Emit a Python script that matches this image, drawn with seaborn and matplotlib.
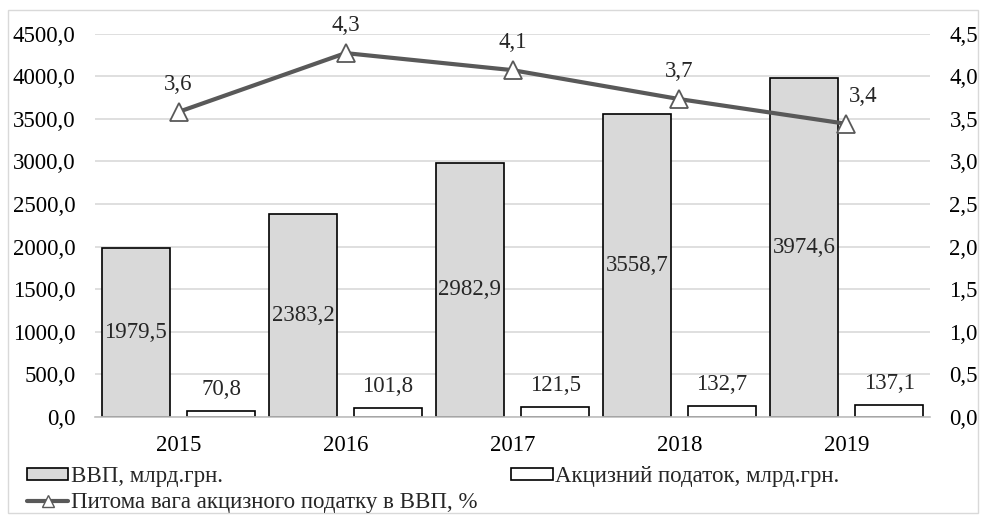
import matplotlib
matplotlib.use("Agg")
import matplotlib.pyplot as plt
from matplotlib.patches import Rectangle, Patch
from matplotlib.lines import Line2D
import seaborn as sns
import pandas as pd

years = ["2015", "2016", "2017", "2018", "2019"]
gdp = [1979.5, 2383.2, 2982.9, 3558.7, 3974.6]
excise = [70.8, 101.8, 121.5, 132.7, 137.1]
share = [3.58, 4.27, 4.07, 3.73, 3.44]

gdp_label = "ВВП, млрд.грн."
excise_label = "Акцизний податок, млрд.грн."
share_label = "Питома вага акцизного податку в ВВП, %"

sns.set_theme(style="white")
plt.rcParams["font.family"] = ["Liberation Serif", "DejaVu Serif"]
FS = 16.5


def fmt(v):
    return f"{v:.1f}".replace(".", ",")


df = pd.DataFrame({
    "year": years * 2,
    "value": gdp + excise,
    "series": [gdp_label] * len(years) + [excise_label] * len(years),
})

fig = plt.figure(figsize=(9.82, 5.17), dpi=100)
ax = fig.add_axes([95 / 982, 1 - 417 / 517, 835 / 982, 383.5 / 517])

sns.barplot(data=df, x="year", y="value", hue="series", order=years,
            hue_order=[gdp_label, excise_label],
            palette=["#d9d9d9", "#ffffff"], width=1.02, gap=0.2,
            edgecolor="black", linewidth=1.2, legend=False, ax=ax)

ax.set_xlim(-0.5, 4.5)
ax.set_ylim(0, 4500)
ax.set_yticks(range(0, 4501, 500))
ax.set_yticklabels([fmt(v) for v in range(0, 4501, 500)], fontsize=FS)
ax.set_xticks(range(len(years)))
ax.set_xticklabels(years, fontsize=FS)
ax.set_xlabel("")
ax.set_ylabel("")
ax.tick_params(axis="both", length=0, colors="black")
ax.tick_params(axis="y", pad=14)
ax.tick_params(axis="x", pad=13)
ax.yaxis.grid(True, color="#d9d9d9", linewidth=1.2)
ax.set_axisbelow(True)
for s in ["left", "right", "top"]:
    ax.spines[s].set_visible(False)
ax.spines["bottom"].set_color("#bfbfbf")
ax.spines["bottom"].set_linewidth(1.2)

# value labels for bars
gdp_bars = ax.containers[0]
exc_bars = ax.containers[1]
for bar, v in zip(gdp_bars, gdp):
    ax.text(bar.get_x() + bar.get_width() / 2, v / 2, fmt(v),
            ha="center", va="center", fontsize=FS)
for bar, v in zip(exc_bars, excise):
    ax.annotate(fmt(v), (bar.get_x() + bar.get_width() / 2, v),
                xytext=(0, 8), textcoords="offset points",
                ha="center", va="bottom", fontsize=FS)

# share line on secondary axis
ax2 = ax.twinx()
sns.lineplot(x=list(range(len(years))), y=share, ax=ax2, color="#595959",
             linewidth=3, marker="^", markersize=13,
             markerfacecolor="white", markeredgecolor="#595959",
             markeredgewidth=1.3, legend=False)
ax2.set_ylim(0, 4.5)
ax2.set_yticks([i * 0.5 for i in range(10)])
ax2.set_yticklabels([fmt(i * 0.5) for i in range(10)], fontsize=FS)
ax2.tick_params(axis="y", length=0, pad=14, colors="black")
ax2.grid(False)
for s in ["left", "right", "top", "bottom"]:
    ax2.spines[s].set_visible(False)
label_dx = [0, 0, 0, 0, 12]
for i, v in enumerate(share):
    ax2.annotate(fmt(v), (i, v), xytext=(label_dx[i], 12),
                 textcoords="offset points",
                 ha="center", va="bottom", fontsize=FS)

handles = [
    Patch(facecolor="#d9d9d9", edgecolor="black", linewidth=1.2),
    Line2D([0], [0], color="#595959", linewidth=3, marker="^",
           markersize=9, markerfacecolor="white", markeredgecolor="#595959"),
    Patch(facecolor="white", edgecolor="black", linewidth=1.2),
]
labels = [gdp_label, share_label, excise_label]
fig.legend(handles, labels, ncol=2, loc="upper left",
           bbox_to_anchor=(27 / 982, 1 - 466 / 517), frameon=False,
           fontsize=FS, handlelength=1.8, handleheight=0.45,
           handletextpad=0.1, columnspacing=1.5, labelspacing=0.22,
           borderpad=0, borderaxespad=0)

fig.add_artist(Rectangle((8 / 982, 4 / 517), 970 / 982, 503 / 517,
                         transform=fig.transFigure, fill=False,
                         edgecolor="#d9d9d9", linewidth=1))

fig.savefig("out.png", dpi=100)
